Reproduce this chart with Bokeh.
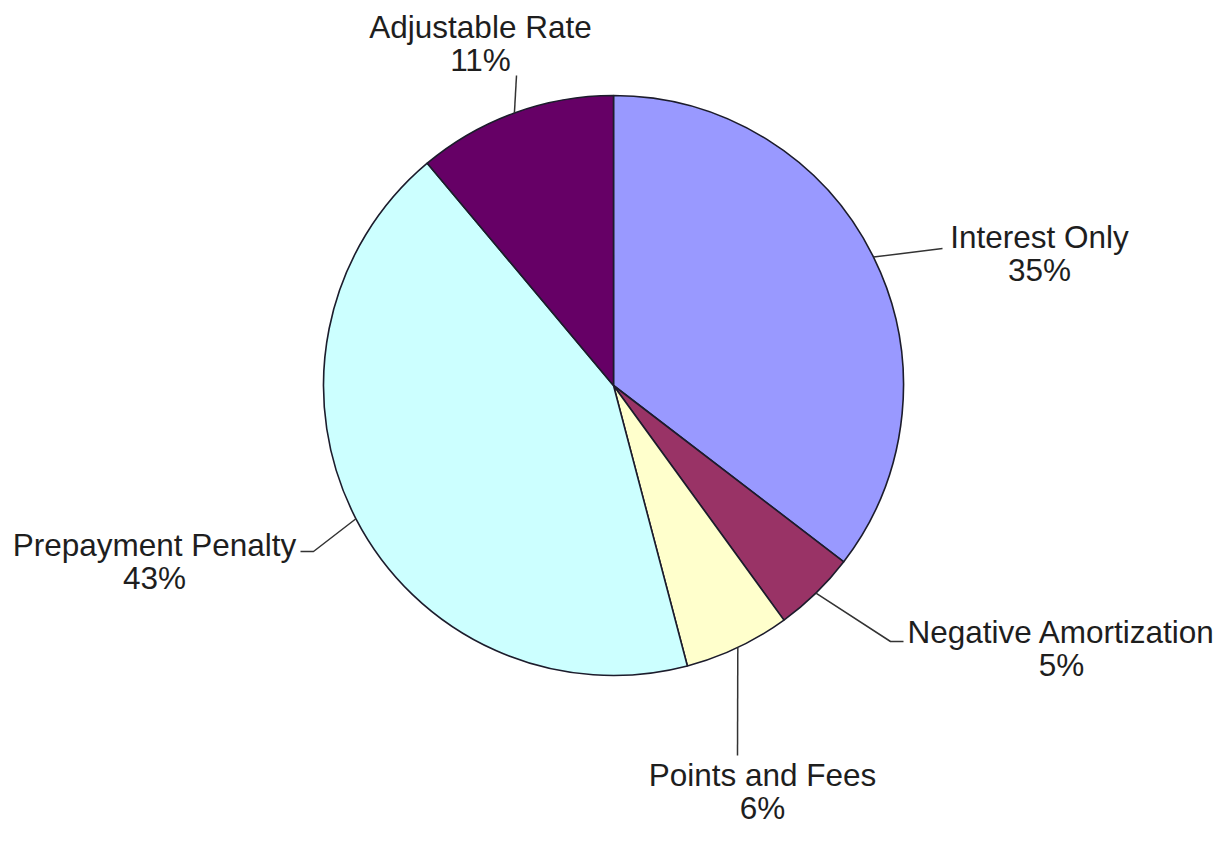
import math
from bokeh.plotting import figure
from bokeh.models import Range1d
from bokeh.embed import file_html
from bokeh.resources import INLINE
from bokeh.core.properties import value

# ---- data ----
categories = ["Interest Only", "Negative Amortization", "Points and Fees",
              "Prepayment Penalty", "Adjustable Rate"]
shares = [35.4, 4.6, 5.9, 43.0, 11.1]          # percent, clockwise from 12 o'clock
colors = ["#9999FF", "#993366", "#FFFFCC", "#CCFFFF", "#660066"]

# ---- layout (pixel coordinates, y downwards from the top-left corner) ----
W, H = 1214, 828
def Y(img_y):
    return H - img_y

CX, CY_IMG, R = 613, 385, 290
# leader line points after the pie edge point, label centre x, first-line position
label_layout = [
    dict(path=[(942, 248)], tx=1039, ty=236),
    dict(path=[(890, 641), (903, 641)], tx=1061, ty=631),
    dict(path=[(737, 755)], tx=762, ty=774),
    dict(path=[(313, 551), (300, 551)], tx=154, ty=544),
    dict(path=[(516, 75)], tx=480, ty=26),
]
LINE_GAP = 33

p = figure(width=W, height=H, x_range=Range1d(0, W), y_range=Range1d(0, H),
           output_backend="svg", toolbar_location=None, min_border=0,
           x_axis_type=None, y_axis_type=None, outline_line_color=None,
           background_fill_color="white", border_fill_color="white")
p.grid.visible = False

total = sum(shares)
starts, ends, mids = [], [], []
cum = 0.0
for s in shares:
    a0 = cum / total
    cum += s
    a1 = cum / total
    starts.append(math.pi / 2 - 2 * math.pi * a0)
    ends.append(math.pi / 2 - 2 * math.pi * a1)
    mids.append(2 * math.pi * (a0 + a1) / 2)   # clockwise from top

p.wedge(x=[CX] * len(shares), y=[Y(CY_IMG)] * len(shares), radius=R,
        start_angle=starts, end_angle=ends, direction="clock",
        fill_color=colors, line_color="#1c1c2c", line_width=1.6)

xs, ys = [], []
for m, lay in zip(mids, label_layout):
    sx = CX + R * math.sin(m)
    sy = CY_IMG - R * math.cos(m)
    px = [sx] + [pt[0] for pt in lay["path"]]
    py = [Y(sy)] + [Y(pt[1]) for pt in lay["path"]]
    xs.append(px)
    ys.append(py)
p.multi_line(xs=xs, ys=ys, line_color="#333333", line_width=1.5)

tx = [lay["tx"] for lay in label_layout]
ty1 = [Y(lay["ty"]) for lay in label_layout]
ty2 = [Y(lay["ty"] + LINE_GAP) for lay in label_layout]
pct = [f"{round(s)}%" for s in shares]

common = dict(text_align="center", text_baseline="alphabetic",
              text_font=value("Liberation Sans"), text_font_size=value("31.5px"),
              text_color="#1e1e1e")
p.text(x=tx, y=ty1, text=categories, **common)
p.text(x=tx, y=ty2, text=pct, **common)

open("out.html", "w").write(file_html(p, INLINE))
